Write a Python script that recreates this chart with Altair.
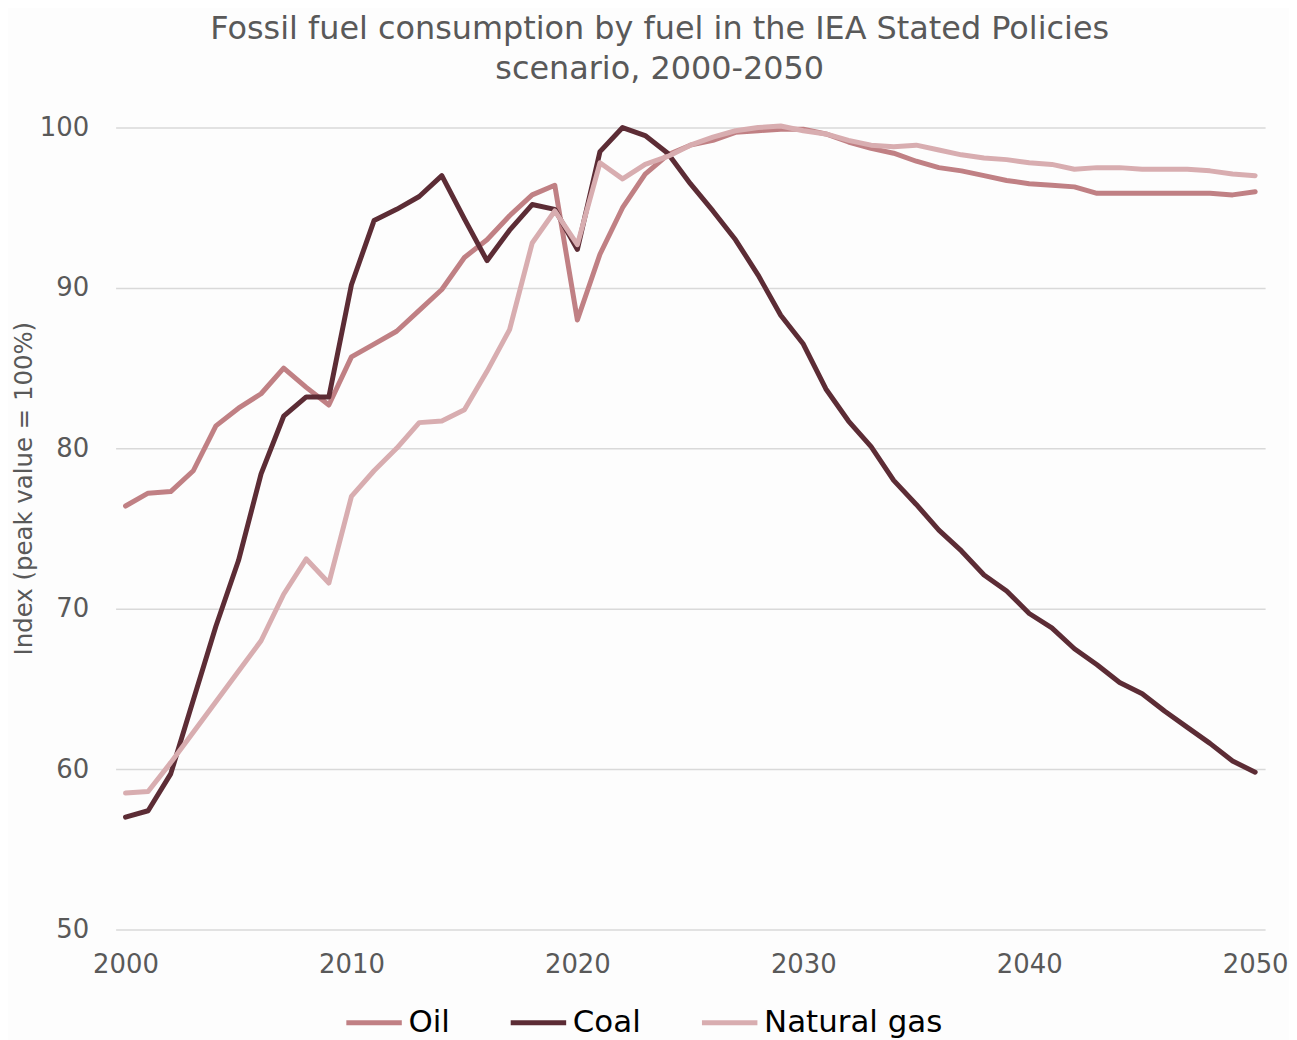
import altair as alt
import pandas as pd

years = list(range(2000, 2051))

oil = [76.4, 77.2, 77.3, 78.6, 81.4, 82.5, 83.4, 85.0, 83.8, 82.7,
       85.7, 86.5, 87.3, 88.6, 89.9, 91.9, 93.0, 94.5, 95.8, 96.4,
       88.0, 92.1, 95.0, 97.1, 98.3, 98.9, 99.2, 99.7, 99.8, 99.9,
       99.9, 99.6, 99.1, 98.7, 98.4, 97.9, 97.5, 97.3, 97.0, 96.7,
       96.5, 96.4, 96.3, 95.9, 95.9, 95.9, 95.9, 95.9, 95.9, 95.8,
       96.0]

coal = [57.0, 57.4, 59.7, 64.3, 68.9, 73.0, 78.4, 82.0, 83.2, 83.2,
        90.2, 94.2, 94.9, 95.7, 97.0, 94.3, 91.7, 93.6, 95.2, 94.9,
        92.4, 98.5, 100.0, 99.5, 98.4, 96.5, 94.8, 93.0, 90.8, 88.3,
        86.5, 83.7, 81.7, 80.1, 78.0, 76.5, 74.9, 73.6, 72.1, 71.1,
        69.7, 68.8, 67.5, 66.5, 65.4, 64.7, 63.6, 62.6, 61.6, 60.5,
        59.8]

gas = [58.5, 58.6, 60.4, 62.3, 64.2, 66.1, 68.0, 70.9, 73.1, 71.6,
       77.0, 78.6, 80.0, 81.6, 81.7, 82.4, 84.8, 87.4, 92.8, 94.8,
       92.7, 97.8, 96.8, 97.7, 98.2, 98.9, 99.4, 99.8, 100.0, 100.1,
       99.8, 99.6, 99.2, 98.9, 98.8, 98.9, 98.6, 98.3, 98.1, 98.0,
       97.8, 97.7, 97.4, 97.5, 97.5, 97.4, 97.4, 97.4, 97.3, 97.1,
       97.0]

series_names = ["Oil", "Coal", "Natural gas"]
series_colors = ["#C08084", "#5C2C35", "#D8ADB0"]
x_ticks = [2000, 2010, 2020, 2030, 2040, 2050]
y_ticks = [50, 60, 70, 80, 90, 100]

rows = []
for name, vals in zip(series_names, [oil, coal, gas]):
    for yr, v in zip(years, vals):
        rows.append({"Year": yr, "Value": v, "Fuel": name})
df = pd.DataFrame(rows)

FONT = "DejaVu Sans"
GREY = "#595959"

color = alt.Color(
    "Fuel:N",
    scale=alt.Scale(domain=series_names, range=series_colors),
    legend=alt.Legend(
        title=None,
        orient="none",
        legendX=229,
        legendY=868,
        direction="horizontal",
        symbolType="stroke",
        symbolSize=3100,
        symbolStrokeWidth=5,
        labelFontSize=31,
        labelColor="#000000",
        labelFont=FONT,
        labelOffset=4,
        labelLimit=0,
        columnPadding=50,
    ),
)

x = alt.X(
    "Year:Q",
    scale=alt.Scale(domain=[1999.56, 2050.44], nice=False, zero=False),
    axis=alt.Axis(
        values=x_ticks, format="d", title=None, grid=False, domain=False,
        ticks=False, labelPadding=22, labelFontSize=26, labelColor=GREY,
        labelFont=FONT, labelFlush=False,
    ),
)
y = alt.Y(
    "Value:Q",
    scale=alt.Scale(domain=[50, 100], nice=False, zero=False),
    axis=alt.Axis(
        values=y_ticks, title="Index (peak value = 100%)", grid=True,
        gridColor="#D9D9D9", gridWidth=1.5, domain=False, ticks=False,
        labelPadding=27, labelFontSize=26, labelColor=GREY, labelFont=FONT,
        titleFontSize=24.5, titleColor=GREY, titleFont=FONT,
        titleFontWeight="normal", titlePadding=3, titleY=362,
    ),
)

layers = []
for name in series_names:
    layers.append(
        alt.Chart(df)
        .transform_filter(alt.datum.Fuel == name)
        .mark_line(strokeWidth=5, strokeCap="round", strokeJoin="round")
        .encode(x=x, y=y, color=color)
    )

chart = (
    alt.layer(*layers)
    .properties(
        width=1154,
        height=805,
        background="#FDFDFD",
        padding={"left": 3, "top": 3, "right": 0, "bottom": 0},
        title=alt.TitleParams(
            text=["Fossil fuel consumption by fuel in the IEA Stated Policies",
                  "scenario, 2000-2050"],
            fontSize=32, font=FONT, color=GREY, fontWeight="normal",
            anchor="middle", frame="bounds", dx=10, lineHeight=40, offset=29,
        ),
    )
    .configure_view(stroke=None)
)

chart.save("out.html", embed_options={"renderer": "svg", "actions": False})
